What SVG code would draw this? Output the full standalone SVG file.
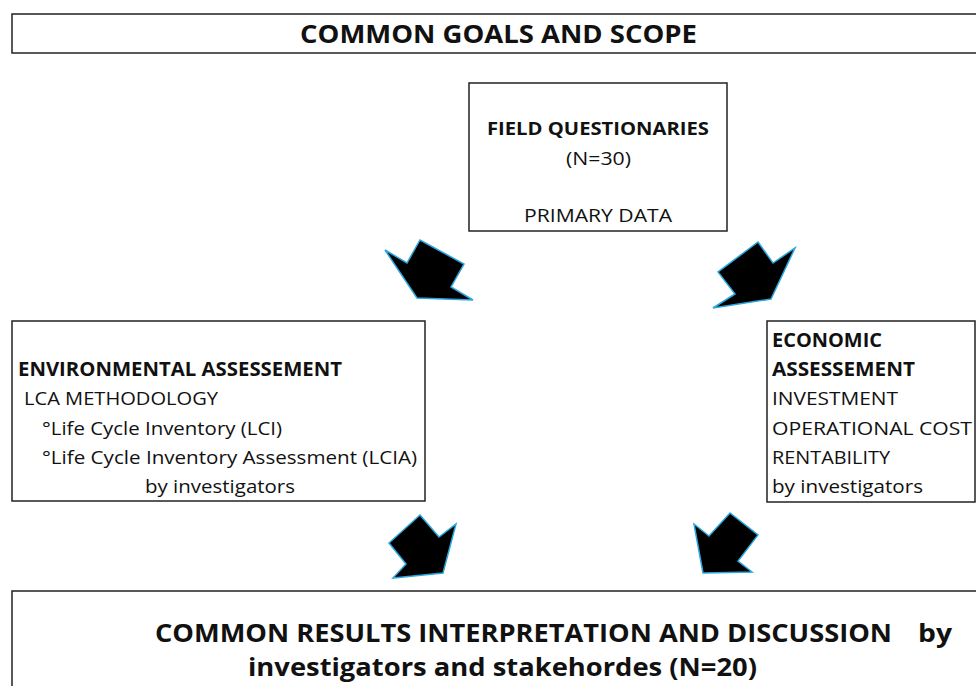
<svg xmlns="http://www.w3.org/2000/svg" width="976" height="686" viewBox="0 0 976 686">
<style>
.box{fill:#fff;stroke:#222;stroke-width:1.5}
.t{font-family:"Open Sans","Liberation Sans",sans-serif;fill:#111}
.b{font-weight:bold}
.arr{fill:#000;stroke:#2aa6de;stroke-width:1.5;stroke-linejoin:miter}
</style>
<rect width="976" height="686" fill="#fff"/>
<g id="goals">
<rect class="box" x="12" y="14" width="970" height="39"/>
<text class="t b" x="300" y="43" font-size="25" textLength="397" lengthAdjust="spacingAndGlyphs">COMMON GOALS AND SCOPE</text>
</g>
<g id="field">
<rect class="box" x="469" y="83" width="258" height="148"/>
<text class="t b" x="487" y="135" font-size="18" textLength="222" lengthAdjust="spacingAndGlyphs">FIELD QUESTIONARIES</text>
<text class="t" x="566" y="165" font-size="18" textLength="65" lengthAdjust="spacingAndGlyphs">(N=30)</text>
<text class="t" x="524" y="222" font-size="18" textLength="148" lengthAdjust="spacingAndGlyphs">PRIMARY DATA</text>
</g>
<g id="env">
<rect class="box" x="12" y="321" width="413" height="180"/>
<text class="t b" x="18" y="376" font-size="19" textLength="324" lengthAdjust="spacingAndGlyphs">ENVIRONMENTAL ASSESSEMENT</text>
<text class="t" x="24" y="405" font-size="19" textLength="194" lengthAdjust="spacingAndGlyphs">LCA METHODOLOGY</text>
<text class="t" x="42" y="435" font-size="19" textLength="240" lengthAdjust="spacingAndGlyphs">°Life Cycle Inventory (LCI)</text>
<text class="t" x="42" y="464" font-size="19" textLength="375" lengthAdjust="spacingAndGlyphs">°Life Cycle Inventory Assessment (LCIA)</text>
<text class="t" x="145" y="493" font-size="19" textLength="150" lengthAdjust="spacingAndGlyphs">by investigators</text>
</g>
<g id="econ">
<rect class="box" x="767" y="321" width="208" height="181"/>
<text class="t b" x="772" y="347" font-size="19" textLength="110" lengthAdjust="spacingAndGlyphs">ECONOMIC</text>
<text class="t b" x="772" y="376" font-size="19" textLength="143" lengthAdjust="spacingAndGlyphs">ASSESSEMENT</text>
<text class="t" x="772" y="405" font-size="19" textLength="126" lengthAdjust="spacingAndGlyphs">INVESTMENT</text>
<text class="t" x="772" y="435" font-size="19" textLength="200" lengthAdjust="spacingAndGlyphs">OPERATIONAL COST</text>
<text class="t" x="772" y="464" font-size="19" textLength="118" lengthAdjust="spacingAndGlyphs">RENTABILITY</text>
<text class="t" x="772" y="493" font-size="19" textLength="151" lengthAdjust="spacingAndGlyphs">by investigators</text>
</g>
<g id="results">
<rect class="box" x="12" y="591" width="970" height="100"/>
<text class="t b" x="155" y="642" font-size="25" textLength="737" lengthAdjust="spacingAndGlyphs">COMMON RESULTS INTERPRETATION AND DISCUSSION</text>
<text class="t b" x="918" y="642" font-size="25" textLength="34" lengthAdjust="spacingAndGlyphs">by</text>
<text class="t b" x="248" y="676" font-size="25" textLength="509" lengthAdjust="spacingAndGlyphs">investigators and stakehordes (N=20)</text>
</g>
<g id="connectors">
<polygon class="arr" points="385,250 407,263 420,240 464,264 451,287 473,300 417,298"/>
<polygon class="arr" points="758,242 773,263 795,248 771,299 713,308 735,294 718,272"/>
<polygon class="arr" points="420,515 439,537 456,524 443,573 393,578 406,564 389,543"/>
<polygon class="arr" points="694,524 709,536 730,513 758,535 738,561 752,572 703,573"/>
</g>
</svg>
